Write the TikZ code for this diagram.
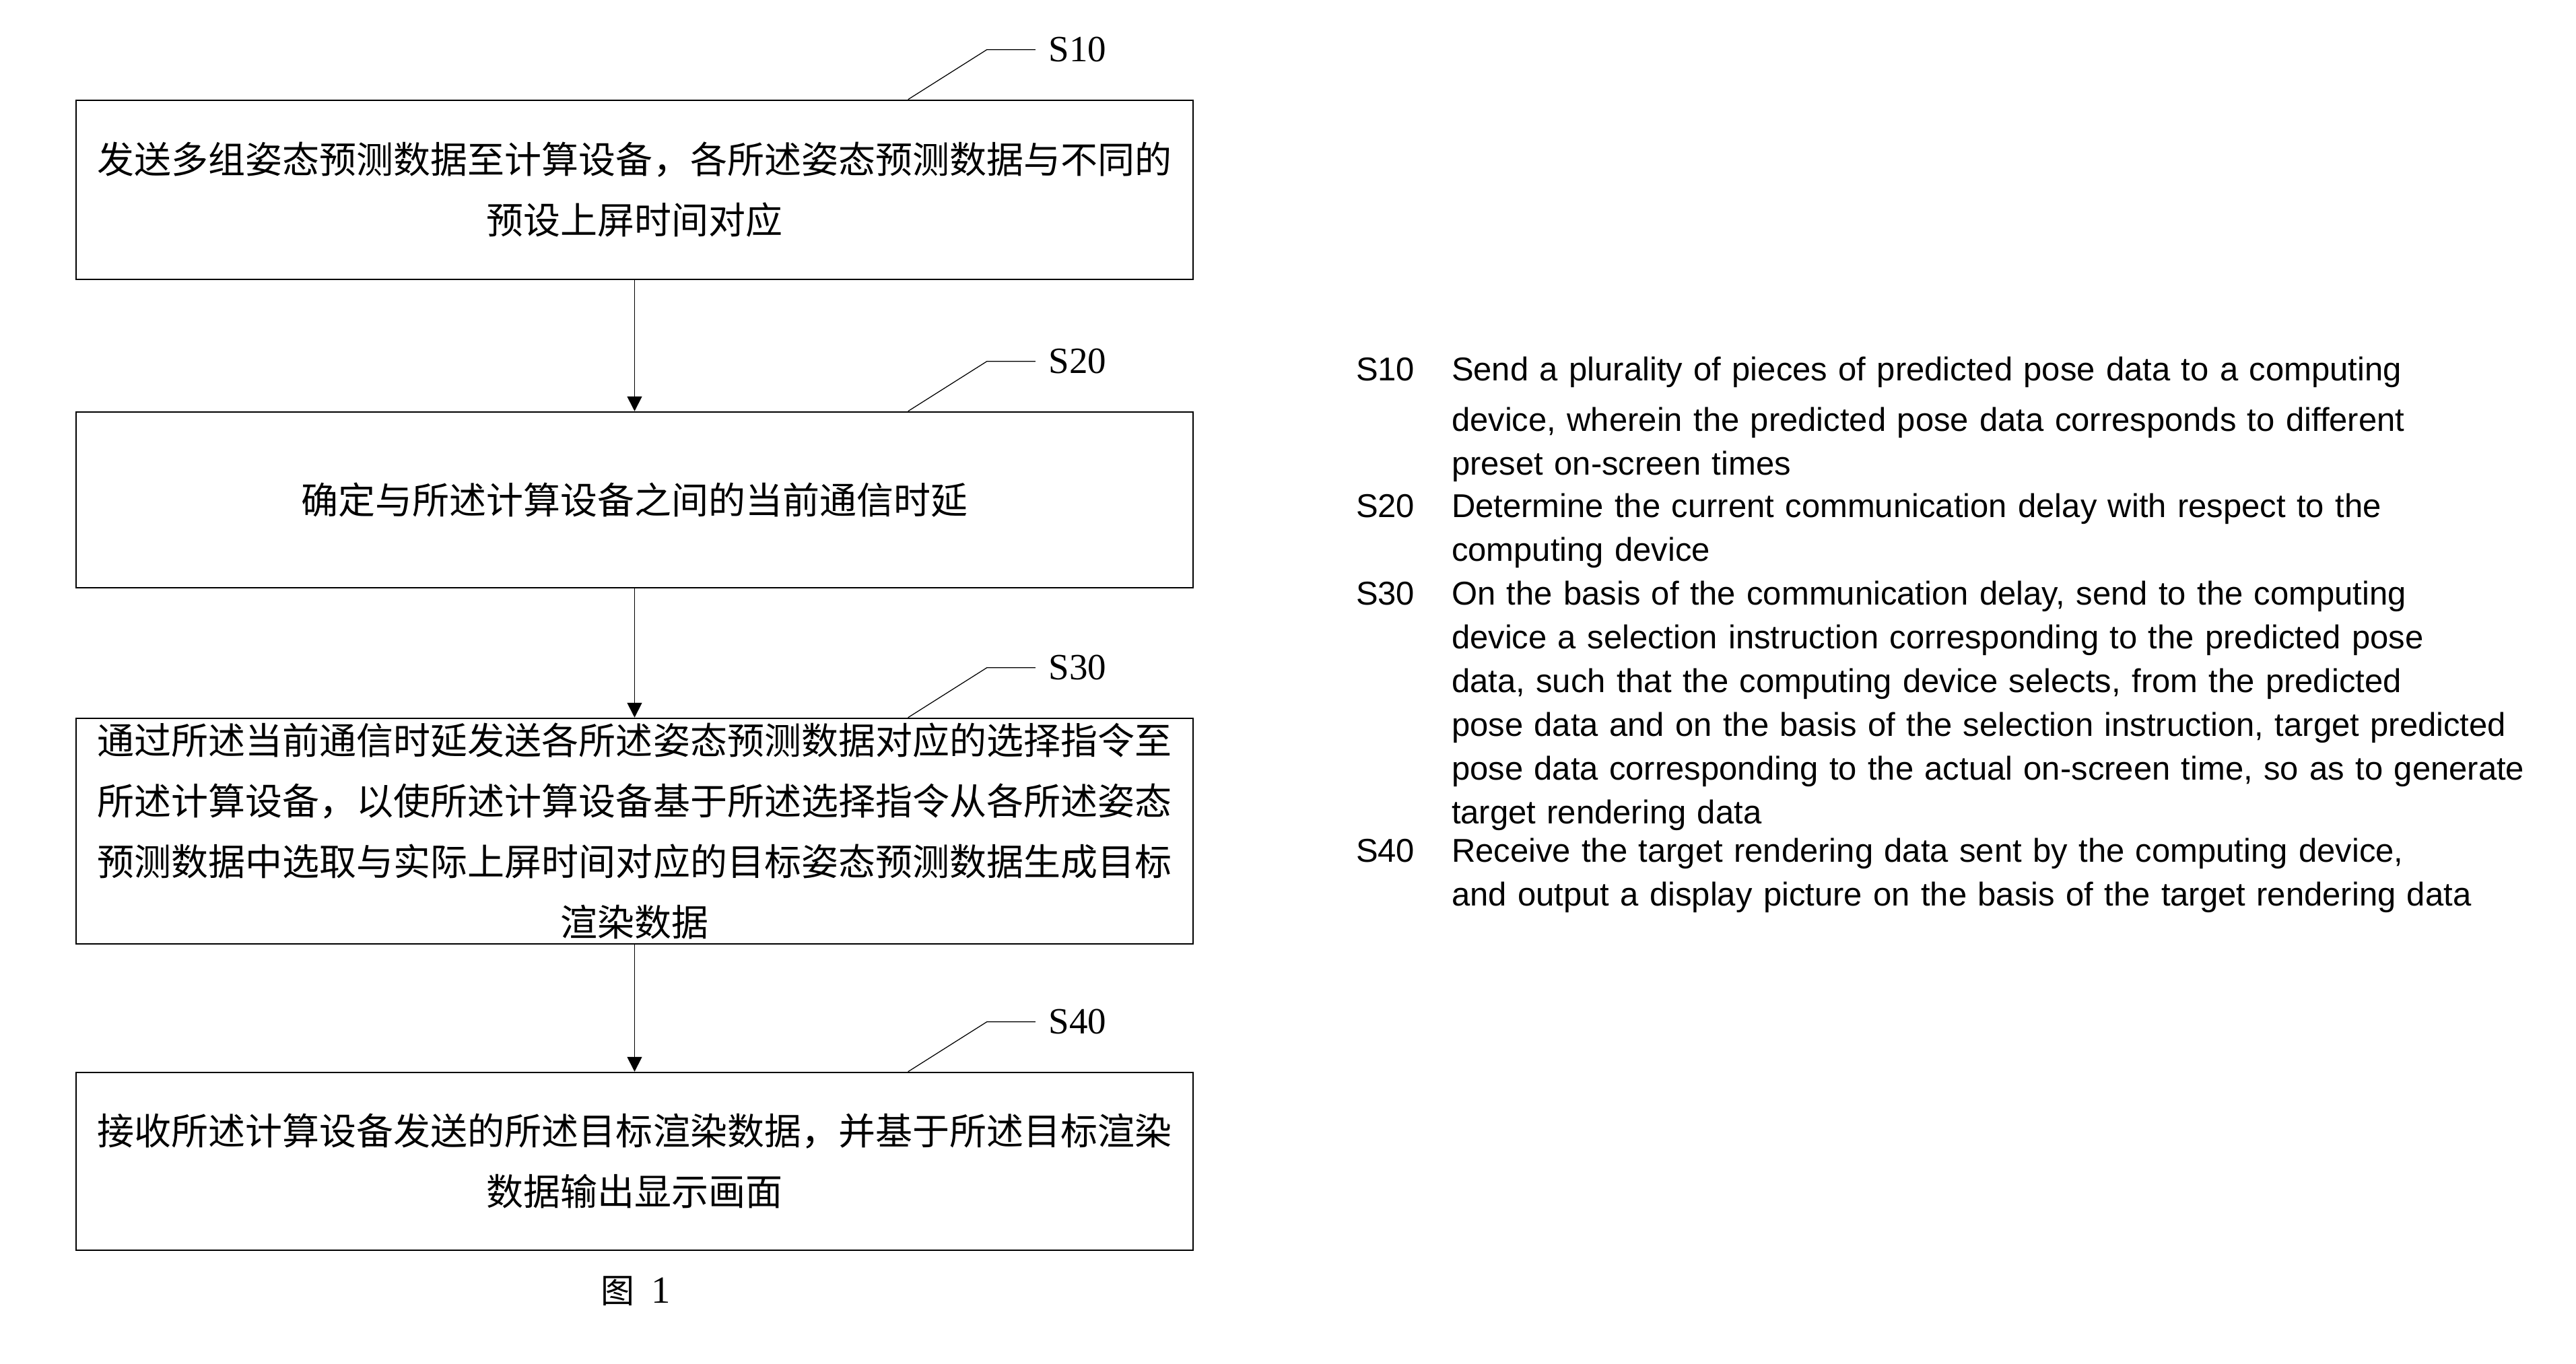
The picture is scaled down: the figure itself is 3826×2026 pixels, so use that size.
\documentclass[tikz,border=0pt]{standalone}
\usepackage{fontspec}
\setmainfont{Liberation Serif}
\newfontfamily\arial{Liberation Sans}
\newfontfamily\cjk{Noto Sans CJK SC}
\usetikzlibrary{arrows.meta,calc}
\begin{document}
\begin{tikzpicture}[x=0.2pt,y=-0.2pt,
  stepbox/.style={draw, line width=0.5pt, minimum width=331.8pt, inner sep=0pt, align=center,
    font=\cjk\fontsize{11pt}{18pt}\selectfont},
  flow/.style={line width=0.35pt, -{Triangle[length=4.4pt,width=4.4pt]}},
  leader/.style={line width=0.25pt},
  lbl/.style={inner xsep=3.8pt, inner ysep=0pt, anchor=west, font=\fontsize{11pt}{13pt}\selectfont},
  eng/.style={inner sep=0pt, anchor=base west, text width=350pt, align=left,
    font=\arial\fontsize{9.8pt}{13pt}\selectfont},
  engnum/.style={inner sep=0pt, anchor=base west, font=\arial\fontsize{9.8pt}{13pt}\selectfont}]
\fill[white] (0,0) rectangle (3826,2026);
\useasboundingbox (0,0) rectangle (3826,2026);

% boxes
\node[stepbox, minimum height=53.2pt] (b1) at (942.5,282)
  {发送多组姿态预测数据至计算设备，各所述姿态预测数据与不同的\\预设上屏时间对应};
\node[stepbox, minimum height=52.2pt] (b2) at (942.5,742.5)
  {确定与所述计算设备之间的当前通信时延};
\node[stepbox, minimum height=67pt] (b3) at (942.5,1234.5)
  {通过所述当前通信时延发送各所述姿态预测数据对应的选择指令至\\所述计算设备，以使所述计算设备基于所述选择指令从各所述姿态\\预测数据中选取与实际上屏时间对应的目标姿态预测数据生成目标\\渲染数据};
\node[stepbox, minimum height=52.8pt] (b4) at (942.5,1725)
  {接收所述计算设备发送的所述目标渲染数据，并基于所述目标渲染\\数据输出显示画面};

% arrows
\draw[flow] (b1) -- (b2);
\draw[flow] (b2) -- (b3);
\draw[flow] (b3) -- (b4);

% step labels with leaders
\foreach \b/\t in {b1/S10, b2/S20, b3/S30, b4/S40}{
  \coordinate (\b lead) at ($(\b.north west)+(1237,0)$);
  \node[lbl] (\b lbl) at ($(\b.north west)+(1426,-74)$) {\t};
  \draw[leader] (\b lead) -- ++(117,-74) -- (\b lbl.west);
}

% English legend
\node[engnum] (n1) at (2013,565) {S10};
\node[eng] (t1) at (2155,565) {Send a plurality of pieces of predicted pose data to a computing\\[2pt]
device, wherein the predicted pose data corresponds to different\\
preset on-screen times};
\node[engnum] (n2) at (2013,768) {S20};
\node[eng] (t2) at (2155,768) {Determine the current communication delay with respect to the\\
computing device};
\node[engnum] (n3) at (2013,898) {S30};
\node[eng] (t3) at (2155,898) {On the basis of the communication delay, send to the computing\\
device a selection instruction corresponding to the predicted pose\\
data, such that the computing device selects, from the predicted\\
pose data and on the basis of the selection instruction, target predicted\\
pose data corresponding to the actual on-screen time, so as to generate\\
target rendering data};
\node[engnum] (n4) at (2013,1280) {S40};
\node[eng] (t4) at (2155,1280) {Receive the target rendering data sent by the computing device,\\
and output a display picture on the basis of the target rendering data};

% caption
\node[inner sep=0pt] (cap) at (944,1918)
  {{\cjk\fontsize{10pt}{11pt}\selectfont 图}\hspace{5pt}{\fontsize{11.4pt}{13pt}\selectfont 1}};
\end{tikzpicture}
\end{document}
